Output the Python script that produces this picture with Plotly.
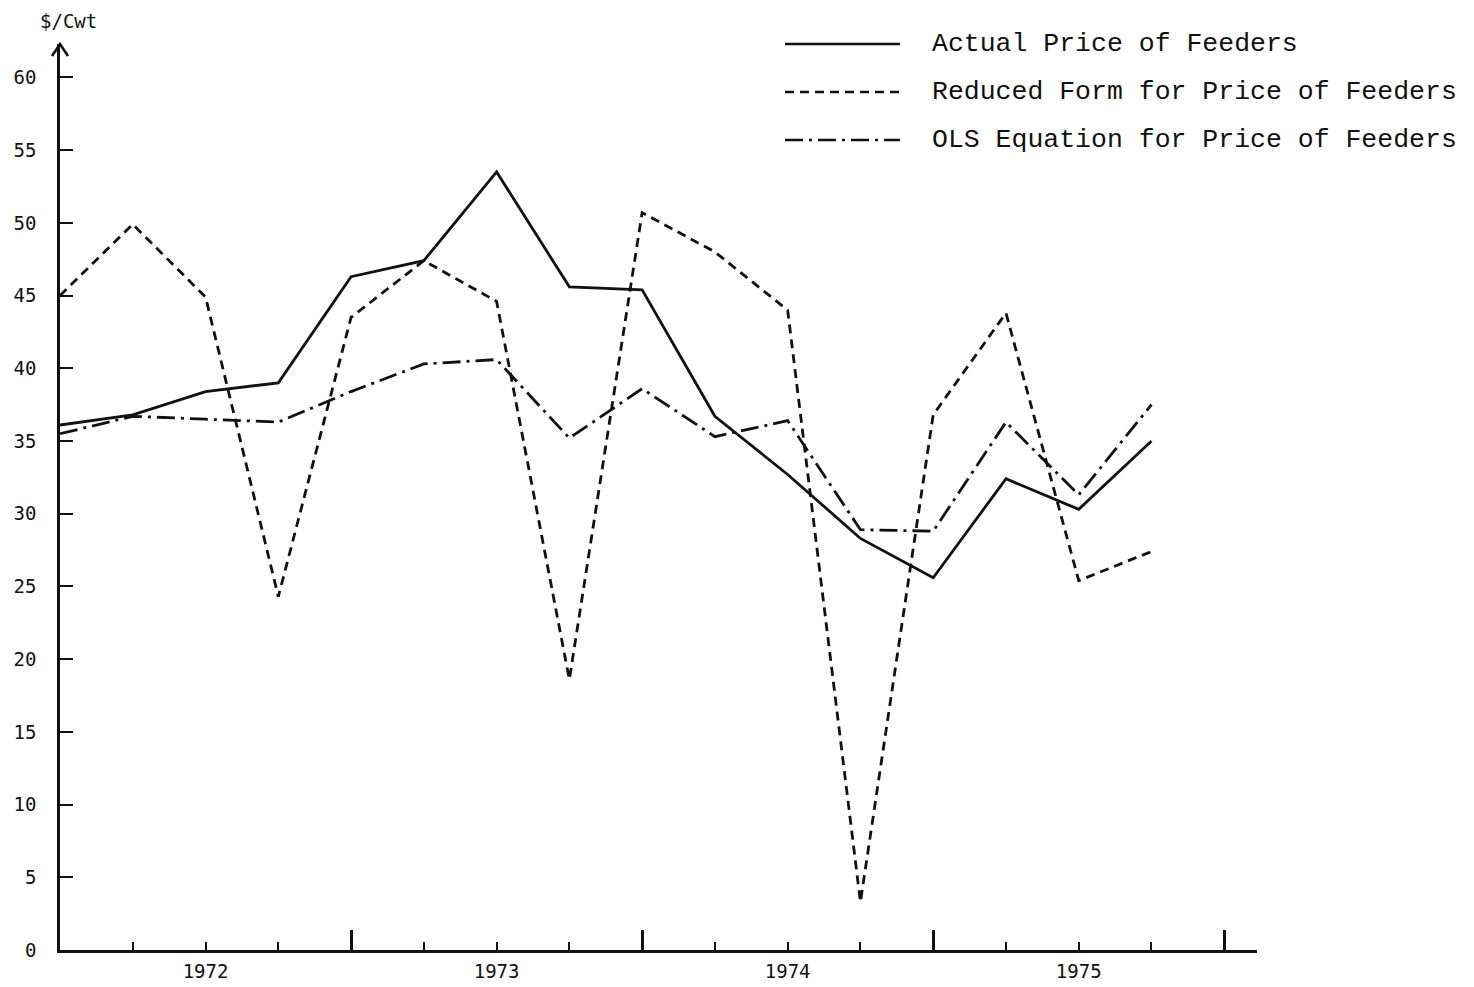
import plotly.graph_objects as go

# Quarter index (0 = 1972 Q1 ... 15 = 1975 Q4)
quarters = list(range(16))
actual = [36.1, 36.8, 38.4, 39.0, 46.3, 47.4, 53.5, 45.6, 45.4, 36.7, 32.7, 28.3, 25.6, 32.4, 30.3, 35.0]
reduced = [45.0, 49.9, 44.9, 24.3, 43.5, 47.4, 44.6, 18.6, 50.7, 48.0, 44.0, 3.3, 36.8, 43.8, 25.4, 27.4]
ols = [35.5, 36.7, 36.5, 36.3, 38.4, 40.3, 40.6, 35.2, 38.6, 35.3, 36.4, 28.9, 28.8, 36.3, 31.3, 37.5]

year_labels = ["1972", "1973", "1974", "1975"]
year_label_pos = [2, 6, 10, 14]
year_bounds = [4, 8, 12, 16]
y_ticks = list(range(0, 61, 5))

series_names = ["Actual Price of Feeders",
                "Reduced Form for Price of Feeders",
                "OLS Equation for Price of Feeders"]

INK = "#111111"
DASH = "9px,6px"
DASHDOT = "18px,6px,3px,6px"
LW = 2.8

fig = go.Figure()
fig.add_trace(go.Scatter(x=quarters, y=actual, mode="lines", name=series_names[0],
                         line=dict(color=INK, width=LW), showlegend=False))
fig.add_trace(go.Scatter(x=quarters, y=reduced, mode="lines", name=series_names[1],
                         line=dict(color=INK, width=LW, dash=DASH), showlegend=False))
fig.add_trace(go.Scatter(x=quarters, y=ols, mode="lines", name=series_names[2],
                         line=dict(color=INK, width=LW, dash=DASHDOT), showlegend=False))
# invisible helper trace to carry the year-label axis
fig.add_trace(go.Scatter(x=quarters, y=actual, xaxis="x2", mode="lines",
                         line=dict(width=0), opacity=0, hoverinfo="skip", showlegend=False))

XR = [0, 16.45]
YR = [0, 62.3]
tickfont = dict(family="DejaVu Sans Mono", size=19, color=INK)

# margins compensated for the page's own offset (~6 px)
L, T, PW, PH = 52, 36, 1197, 906

fig.update_layout(
    width=1474, height=987,
    margin=dict(l=L, r=1474 - L - PW, t=T, b=987 - T - PH, autoexpand=False),
    paper_bgcolor="white", plot_bgcolor="white",
    xaxis=dict(range=XR, showgrid=False, zeroline=False, automargin=False,
               showline=True, linecolor=INK, linewidth=2.5,
               tickmode="array", tickvals=year_bounds, ticks="inside",
               ticklen=20, tickwidth=2.5, tickcolor=INK, showticklabels=False,
               minor=dict(tickmode="array", tickvals=quarters[1:] + [16], ticks="inside",
                          ticklen=8, tickwidth=2.2, tickcolor=INK, showgrid=False)),
    xaxis2=dict(range=XR, overlaying="x", side="bottom", anchor="y", automargin=False,
                showgrid=False, zeroline=False, showline=False,
                tickmode="array", tickvals=year_label_pos, ticktext=year_labels,
                ticks="", tickfont=tickfont, ticklabelstandoff=8),
    yaxis=dict(range=YR, showgrid=False, zeroline=False, automargin=False,
               showline=True, linecolor=INK, linewidth=2.5,
               tickmode="array", tickvals=y_ticks, ticks="inside",
               ticklen=13, tickwidth=2.2, tickcolor=INK,
               tickfont=tickfont, ticklabelstandoff=17),
    showlegend=False,
)

# arrow head at the top of the y axis
fig.add_shape(type="path", xref="paper", yref="paper", xsizemode="pixel", ysizemode="pixel",
              xanchor=0, yanchor=1, path="M-8,-12 L0,0 L8,-12",
              line=dict(color=INK, width=2.6))


def px_x(p):
    return (p - 58) / PW


def px_y(p):
    return (948 - p) / PH


# y-axis unit label
fig.add_annotation(text="$/Cwt", xref="paper", yref="paper", x=px_x(66),
                   y=px_y(19), showarrow=False, xanchor="center", yanchor="middle",
                   font=dict(family="DejaVu Sans Mono", size=19, color=INK))

# custom legend
legend_rows = [42, 90, 138]
legend_dash = ["solid", DASH, DASHDOT]
for name, row, dash in zip(series_names, legend_rows, legend_dash):
    fig.add_shape(type="line", xref="paper", yref="paper",
                  x0=px_x(783), x1=px_x(898), y0=px_y(row), y1=px_y(row),
                  line=dict(color=INK, width=2.4, dash=dash))
    fig.add_annotation(text=name, xref="paper", yref="paper", x=px_x(928), y=px_y(row),
                       showarrow=False, xanchor="left", yanchor="middle",
                       font=dict(family="Liberation Mono", size=26.5, color=INK))

fig.write_html("out.html")
